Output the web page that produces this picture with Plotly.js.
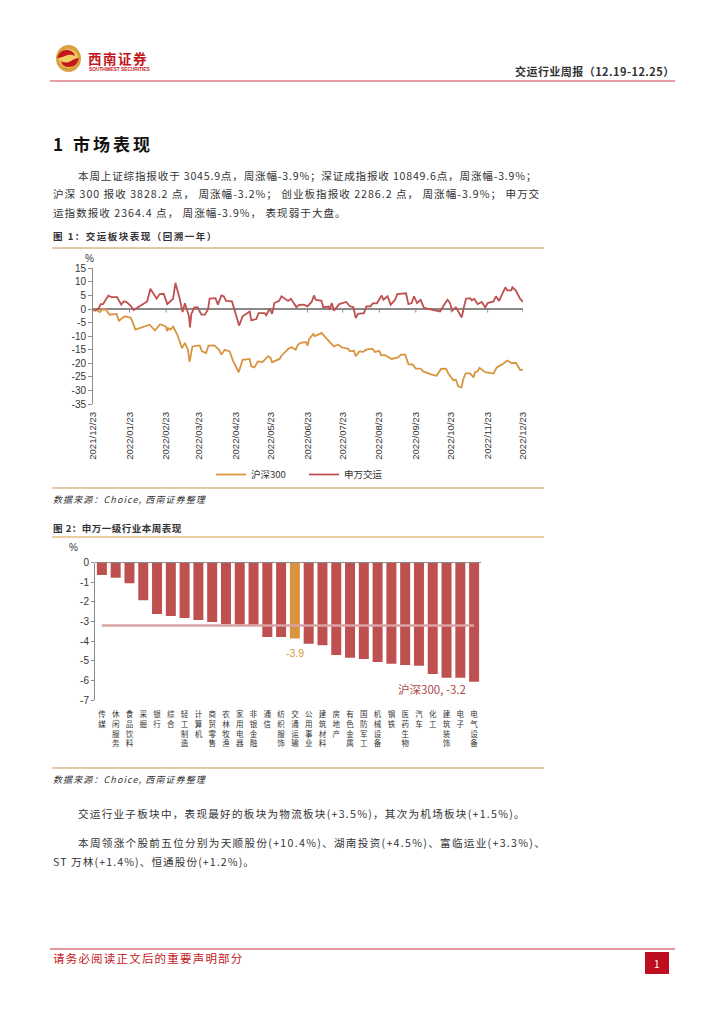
<!DOCTYPE html>
<html><head><meta charset="utf-8">
<script src="https://cdn.plot.ly/plotly-3.0.1.min.js"></script>
<style>html,body{margin:0;padding:0;background:#fff}#c{width:724px;height:1024px}</style>
</head><body><div id="c"></div>
<script>
const CJK='"Noto Sans CJK SC","Liberation Sans",sans-serif';
const LAT='"Liberation Sans",Arial,sans-serif';
const W=724,H=1024;

const tickLabels=['2021/12/23','2022/01/23','2022/02/23','2022/03/23','2022/04/23','2022/05/23','2022/06/23','2022/07/23','2022/08/23','2022/09/23','2022/10/23','2022/11/23','2022/12/23'];
const tickDates=['2021-12-23','2022-01-23','2022-02-23','2022-03-23','2022-04-23','2022-05-23','2022-06-23','2022-07-23','2022-08-23','2022-09-23','2022-10-23','2022-11-23','2022-12-23'];
const tickZeros=[0,0,0,0,0,0,0,0,0,0,0,0,0];
const y1Ticks=[15,10,5,0,-5,-10,-15,-20,-25,-30,-35];
const y1TickText=['15','10','5','0','-5','-10','-15','-20','-25','-30','-35'];
const y2Ticks=[0,-1,-2,-3,-4,-5,-6,-7];
const y2TickText=['0','-1','-2','-3','-4','-5','-6','-7'];

// days since 2021-12-23
const swDays=[0,2,5,6.5,8.5,13,15.6,20.4,24,26,28,32,34.5,39.6,46,48.7,54,56.6,60,63,68,70,73.5,76,78,81.5,82.3,83.5,86,89,92,95,97.6,99,104,106,109,111,113,118,120,124,127,133,134.4,138.6,140.6,145.7,147,150,152,154,158,160,165.6,168,172.6,175,179,182,185.6,187.6,189,194,195.5,200,201,202.6,204.6,209,215,218,221,223,225,230,232,235.7,237.4,241,245,246.5,250,252.7,256.4,258.3,265.7,267.7,270.5,272.5,275,278,281,289,294.6,299,301,303,305,308,313,315,316.6,320,321.5,323.7,326.5,330,333,335,340,342,344.7,350,351.7,355,356,359,362.5,365];
const swValues=[0,-0.6,0.4,1.8,1.8,4.9,4.4,4.4,1.6,2.8,2.7,1.2,-0.4,0.9,2.8,7.5,3.8,5.5,5.6,1.8,3.8,9.6,4,-1.1,2.1,-2.7,-6.8,-1.8,0.6,0.6,-2.1,-2.1,-0.2,3.8,4,1.6,5,4.7,3,2.8,-0.2,-6.1,-2.7,-0.9,-4.2,-3.7,-1.5,-1.5,-2.3,0.1,-1.8,2.2,3,4.7,3,3.8,0.7,1.5,1.6,1,2.6,5,3.4,3,0.6,0.9,-0.2,2.2,-0.6,1.8,2.6,1,0.7,-3.3,-1.8,-1.5,1,1,2.1,2.1,5,3.4,4.7,1.6,3.4,5.5,5.8,1.8,2.2,4.7,2.2,3.4,0.4,-0.5,-0.9,2.2,3.4,2.2,-0.6,0.6,-3.1,1,3.8,4,3.2,3.7,1.8,2.6,0.6,2.2,2.8,4.7,3,8,6.9,6.9,8,6.8,3.8,2.6];
const hsDays=[0,3,5.7,8,11,14,20,22,27,32,34,36,48,52.6,57,61.7,63,63.7,65.6,68,71.6,75.6,78,80.6,82,84.4,90.6,92.5,96,98,103,107,109,111.8,116,118.8,123.7,127,133,134.4,137,140,144,148.6,150.5,152,158.4,160,166,168.6,172,174,177,181,182,183.6,187,188.4,194,197,201,204.6,208,211,216.7,218,221.5,223,226,229.5,231.7,237,239.4,243,244.5,248,253.5,259,261.5,265,267.7,271.4,274,278,280.4,287.5,291.7,295.4,299.7,301.6,306,308,310,312.7,314.4,316.4,320,323,324.3,326.5,328,333,340,342.7,347,351.7,355.4,359,362.5,365];
const hsValues=[0,-0.4,-1.1,-0.1,-0.2,-2.1,-1.8,-4.3,-2.7,-3.2,-5.2,-7.6,-5.8,-7.9,-5.6,-6.4,-8.2,-7,-7.6,-6.5,-9.5,-14.4,-12.5,-15,-19.5,-13.8,-13.4,-15.6,-16.2,-13.5,-13.4,-15,-16.8,-15,-15.6,-19,-23.3,-18.7,-18.4,-21.1,-21.5,-19.3,-19.5,-17.4,-17.8,-19.6,-18.4,-17.2,-14.6,-14.1,-15,-13.1,-12.4,-12.2,-13.5,-11,-9.2,-10,-8.8,-10.4,-12.2,-13.8,-13.1,-14.1,-14.7,-15.6,-15.4,-17.4,-15.6,-15.8,-15,-14.6,-15.8,-15.4,-17,-17,-18.4,-17.8,-16.8,-16.8,-20.3,-20.5,-22,-22,-23,-24.2,-24.6,-22.1,-22,-23.8,-26.3,-26,-28.5,-28.9,-25.8,-23.7,-23.7,-25.2,-23.2,-23,-21.7,-23.3,-23.8,-21.5,-20.5,-19,-19.9,-19.9,-22.4,-22.4];

const industries=['传媒','休闲服务','食品饮料','采掘','银行','综合','轻工制造','计算机','商贸零售','农林牧渔','家用电器','非银金融','通信','纺织服饰','交通运输','公用事业','建筑材料','房地产','有色金属','国防军工','机械设备','钢铁','医药生物','汽车','化工','建筑装饰','电子','电气设备'];
const weekly=[-0.63,-0.77,-1.05,-1.92,-2.62,-2.72,-2.82,-2.92,-3.02,-3.14,-3.15,-3.16,-3.79,-3.79,-3.87,-4.13,-4.21,-4.7,-4.84,-4.91,-5.06,-5.15,-5.22,-5.25,-5.67,-5.86,-5.87,-6.07];
const hs300Week=-3.2;
const highlight='交通运输';

const RED='#bf5050',ORANGE='#d99440',GRAY='#8a8a8a',TXT='#333333',BRAND='#c4161c';
const toDate=d=>new Date(Date.UTC(2021,11,23)+d*864e5).toISOString();
const px=x=>x/W, py=y=>1-y/H;
const stack=s=>s.split('').join('<br>');
const sp=(s,ls)=>'<span style="letter-spacing:'+ls+'px">'+s+'</span>';

const traces=[
 {x:hsDays.map(toDate),y:hsValues,name:'沪深300',type:'scatter',mode:'lines',line:{color:ORANGE,width:1.8},xaxis:'x',yaxis:'y',hoverinfo:'skip'},
 {x:swDays.map(toDate),y:swValues,name:'申万交运',type:'scatter',mode:'lines',line:{color:RED,width:1.8},xaxis:'x',yaxis:'y',hoverinfo:'skip'},
 {x:tickDates,y:tickZeros,type:'scatter',mode:'markers',marker:{size:1,color:GRAY,opacity:0},showlegend:false,
  error_y:{type:'data',symmetric:false,array:tickZeros,arrayminus:tickZeros.map(()=>1.3),color:GRAY,thickness:1,width:0},xaxis:'x',yaxis:'y',hoverinfo:'skip'},
 {x:industries,y:weekly,type:'bar',marker:{color:industries.map(n=>n===highlight?ORANGE:RED),line:{width:0}},showlegend:false,xaxis:'x2',yaxis:'y2',hoverinfo:'skip'},
 {x:industries,y:industries.map(()=>hs300Week),type:'scatter',mode:'lines',line:{color:'#d9a3a3',width:2.6},showlegend:false,xaxis:'x2',yaxis:'y2',hoverinfo:'skip'}
];

const T=(x,y,text,size,o={})=>Object.assign({xref:'paper',yref:'paper',x:px(x),y:py(y),text,showarrow:false,xanchor:'left',yanchor:'middle',align:'left',
  font:{family:CJK,size,color:TXT},borderpad:0},o);
const bold=s=>'<b>'+s+'</b>';
const annotations=[
 T(87,57.5,sp(bold('西南证券'),1.5),13.5,{font:{family:CJK,size:13.5,color:BRAND}}),
 T(88,69,bold('SOUTHWEST SECURITIES'),4.8,{font:{family:LAT,size:4.8,color:BRAND}}),
 T(514,71,sp(bold('交运行业周报（12.19-12.25）'),0.45),11),
 T(52,143,sp(bold('1 市场表现'),3),17,{font:{family:CJK,size:17,color:'#111'}}),
 T(77,175,sp('本周上证综指报收于 3045.9点，周涨幅-3.9%；深证成指报收 10849.6点，周涨幅-3.9%；',0.8),10.6),
 T(52,193.5,sp('沪深 300 报收 3828.2 点， 周涨幅-3.2%； 创业板指报收 2286.2 点， 周涨幅-3.9%； 申万交',1),10.6),
 T(52,212,sp('运指数报收 2364.4 点， 周涨幅-3.9%， 表现弱于大盘。',1),10.6),
 T(52,236,sp(bold('图 1：交运板块表现（回溯一年）'),1.5),9.5),
 T(89,258,'%',9.5,{xanchor:'center',font:{family:LAT,size:10,color:TXT}}),
 T(52,499,sp('<i>数据来源：Choice, 西南证券整理</i>',1.1),9),
 T(52,528,sp(bold('图 2：申万一级行业本周表现'),0.5),9.5),
 T(73,547,'%',9.5,{xanchor:'center',font:{family:LAT,size:10,color:TXT}}),
 T(52,779,sp('<i>数据来源：Choice, 西南证券整理</i>',1.1),9),
 T(77,813,sp('交运行业子板块中，表现最好的板块为物流板块(+3.5%)，其次为机场板块(+1.5%)。',1.25),10.6),
 T(77,842,sp('本周领涨个股前五位分别为天顺股份(+10.4%)、湖南投资(+4.5%)、富临运业(+3.3%)、',1.3),10.6),
 T(52,861,sp('ST 万林(+1.4%)、恒通股份(+1.2%)。',1.1),10.6),
 T(52,958,sp('请务必阅读正文后的重要声明部分',1.2),11.5,{font:{family:CJK,size:11.5,color:BRAND}}),
 T(657,963,'1',10,{xanchor:'center',font:{family:CJK,size:10,color:'#fff'}}),
 {xref:'x2',yref:'y2',x:highlight,y:weekly[industries.indexOf(highlight)],text:'-3.9',showarrow:false,yanchor:'top',yshift:-6,font:{family:LAT,size:10.5,color:ORANGE}},
 T(432,689,'沪深300, -3.2',11.5,{xanchor:'center',font:{family:CJK,size:11.5,color:'#b04545'}})
];

const rule=(x0,x1,y,color,w)=>({type:'line',xref:'paper',yref:'paper',x0:px(x0),x1:px(x1),y0:py(y),y1:py(y),line:{color,width:w}});
// logo outline given in page pixels, written out as paper fractions for the path shape
const P=(pts)=>pts.map(c=>typeof c==='string'?c:(c.length===2?px(c[0])+','+py(c[1]):'')).join(' ');
const swoosh={type:'path',xref:'paper',yref:'paper',fillcolor:BRAND,line:{width:0},
  path:P(['M',[57,58],'Q',[60,49],[68,50],'Q',[74,51],[75,56],'Q',[70,53],[65,56],'Q',[61,58],[57,58],'Z',
          'M',[79,58],'Q',[77,67],[69,67],'Q',[62,67],[61,61],'Q',[66,64],[71,61],'Q',[75,58],[79,58],'Z'])};
const shapes=[
 {type:'circle',xref:'paper',yref:'paper',x0:px(56),x1:px(81),y0:py(72),y1:py(45),fillcolor:'#d9a03f',line:{width:0},layer:'below'},
 {type:'circle',xref:'paper',yref:'paper',x0:px(59),x1:px(78),y0:py(68),y1:py(49),fillcolor:'#f2cd63',line:{width:0},layer:'below'},
 swoosh,
 rule(50,675,81,'#e08088',1.5),
 rule(52,544,248,'#dcb987',1.5),
 rule(52,544,488,'#dcb987',1.5),
 rule(52,544,537,'#d89a45',1),
 rule(52,544,768,'#dcb987',1.5),
 rule(50,675,949,'#c9303a',1),
 {type:'rect',xref:'paper',yref:'paper',x0:px(645),x1:px(669),y0:py(974),y1:py(952),fillcolor:'#bd0f1f',line:{width:0},layer:'below'}
];

const layout={
 width:W,height:H,margin:{l:0,r:0,t:0,b:0},paper_bgcolor:'#fff',plot_bgcolor:'rgba(0,0,0,0)',
 font:{family:LAT,color:TXT},
 xaxis:{domain:[px(93),px(523)],type:'date',range:[toDate(0),toDate(365)],tickmode:'array',tickvals:tickDates,ticktext:tickLabels,tickangle:-90,
   showgrid:false,zeroline:false,showline:false,ticks:'outside',ticklen:3,tickcolor:'rgba(0,0,0,0)',tickfont:{family:LAT,size:9.6,color:TXT},anchor:'y',automargin:false},
 yaxis:{domain:[py(404),py(268.3)],range:[-35,15],tickmode:'array',tickvals:y1Ticks,ticktext:y1TickText,showgrid:false,zeroline:true,zerolinecolor:GRAY,zerolinewidth:1.2,showline:true,linecolor:GRAY,linewidth:1,
   ticks:'outside',ticklen:4,tickcolor:GRAY,tickfont:{family:LAT,size:10,color:TXT},anchor:'x',automargin:false},
 xaxis2:{domain:[px(95),px(481)],type:'category',categoryorder:'array',categoryarray:industries,tickmode:'array',tickvals:industries,ticktext:industries.map(stack),tickangle:0,
   showgrid:false,zeroline:false,showline:false,ticks:'outside',ticklen:7,tickcolor:'rgba(0,0,0,0)',tickfont:{family:CJK,size:7.5,color:TXT},anchor:'y2',automargin:false},
 yaxis2:{domain:[py(700),py(562.7)],range:[-7,0],tickmode:'array',tickvals:y2Ticks,ticktext:y2TickText,showgrid:false,zeroline:true,zerolinecolor:GRAY,zerolinewidth:1.2,showline:true,linecolor:GRAY,linewidth:1,
   ticks:'outside',ticklen:3,tickcolor:GRAY,tickfont:{family:LAT,size:10,color:TXT},anchor:'x2',automargin:false},
 bargap:0.275,
 legend:{orientation:'h',x:px(211),y:py(460),xanchor:'left',yanchor:'top',font:{family:CJK,size:9.5,color:TXT},entrywidth:48,entrywidthmode:'pixels',bgcolor:'rgba(0,0,0,0)',itemwidth:30},
 annotations,shapes
};
Plotly.newPlot('c',traces,layout,{displayModeBar:false,staticPlot:true});
</script></body></html>
